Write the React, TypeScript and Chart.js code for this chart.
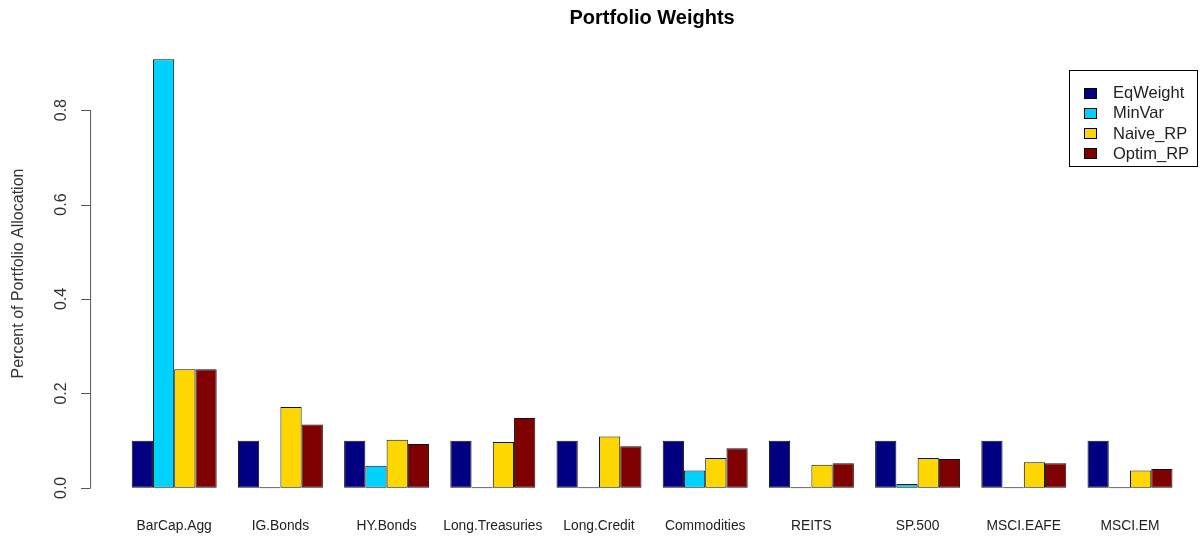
import React, { useEffect, useRef } from "react";
import { Chart, registerables } from "chart.js";

Chart.register(...registerables);

const categories = [
  "BarCap.Agg",
  "IG.Bonds",
  "HY.Bonds",
  "Long.Treasuries",
  "Long.Credit",
  "Commodities",
  "REITS",
  "SP.500",
  "MSCI.EAFE",
  "MSCI.EM",
];

const eqWeight = [0.1, 0.1, 0.1, 0.1, 0.1, 0.1, 0.1, 0.1, 0.1, 0.1];
const minVar = [0.908, 0, 0.047, 0, 0, 0.037, 0, 0.008, 0, 0];
const naiveRP = [0.251, 0.171, 0.102, 0.097, 0.109, 0.063, 0.049, 0.063, 0.054, 0.037];
const optimRP = [0.251, 0.134, 0.093, 0.148, 0.088, 0.084, 0.052, 0.061, 0.052, 0.04];

const seriesNames = ["EqWeight", "MinVar", "Naive_RP", "Optim_RP"];
const seriesColors = ["#000080", "#00d2ff", "#ffd700", "#7f0000"];

const yTicks = [0, 0.2, 0.4, 0.6, 0.8];
const yTickLabels = ["0.0", "0.2", "0.4", "0.6", "0.8"];

const chartTitle = "Portfolio Weights";
const yTitle = "Percent of Portfolio Allocation";

const FONT = "'Liberation Sans', Arial, sans-serif";

const rStylePlugin = {
  id: "rStyle",
  afterDraw(chart: any) {
    const ctx = chart.ctx;
    const area = chart.chartArea;
    const y = chart.scales.y;
    ctx.save();

    // Title
    ctx.fillStyle = "#000";
    ctx.font = `bold 20px ${FONT}`;
    ctx.textAlign = "center";
    ctx.textBaseline = "middle";
    ctx.fillText(chartTitle, (area.left + area.right) / 2, 18);

    // Y axis line + ticks
    const axisX = area.left - 31;
    const y0 = y.getPixelForValue(yTicks[0]);
    const y1 = y.getPixelForValue(yTicks[yTicks.length - 1]);
    ctx.strokeStyle = "#555";
    ctx.lineWidth = 1;
    ctx.beginPath();
    ctx.moveTo(axisX + 0.5, y0);
    ctx.lineTo(axisX + 0.5, y1);
    yTicks.forEach((v) => {
      const py = Math.round(y.getPixelForValue(v)) + 0.5;
      ctx.moveTo(axisX + 0.5, py);
      ctx.lineTo(axisX - 9, py);
    });
    ctx.stroke();

    // Y tick labels (rotated)
    ctx.fillStyle = "#333";
    ctx.font = `16px ${FONT}`;
    yTicks.forEach((v, i) => {
      const py = y.getPixelForValue(v);
      ctx.save();
      ctx.translate(axisX - 29, py);
      ctx.rotate(-Math.PI / 2);
      ctx.textAlign = "center";
      ctx.textBaseline = "middle";
      ctx.fillText(yTickLabels[i], 0, 0);
      ctx.restore();
    });

    // Y title
    ctx.save();
    ctx.translate(19, (area.top + area.bottom) / 2);
    ctx.rotate(-Math.PI / 2);
    ctx.textAlign = "center";
    ctx.textBaseline = "middle";
    ctx.fillStyle = "#333";
    ctx.font = `16px ${FONT}`;
    ctx.fillText(yTitle, 0, 0);
    ctx.restore();

    // Legend
    const bx = 1069.5;
    const by = 70.5;
    const bw = 128;
    const bh = 96;
    ctx.fillStyle = "#fff";
    ctx.fillRect(bx, by, bw, bh);
    ctx.strokeStyle = "#000";
    ctx.lineWidth = 1;
    ctx.strokeRect(bx, by, bw, bh);
    ctx.font = `16.5px ${FONT}`;
    ctx.textAlign = "left";
    ctx.textBaseline = "middle";
    chart.data.datasets.forEach((ds: any, i: number) => {
      const cy = by + 22 + i * 20.3;
      ctx.fillStyle = ds.backgroundColor;
      ctx.fillRect(1084.5, Math.round(cy - 5) + 0.5, 12, 10);
      ctx.strokeStyle = "#000";
      ctx.strokeRect(1084.5, Math.round(cy - 5) + 0.5, 12, 10);
      ctx.fillStyle = "#222";
      ctx.fillText(ds.label, 1113, cy + 1);
    });

    ctx.restore();
  },
};

export default function App() {
  const ref = useRef<HTMLCanvasElement | null>(null);

  useEffect(() => {
    document.body.style.margin = "0";
    if (!ref.current) return;
    const values = [eqWeight, minVar, naiveRP, optimRP];
    const chart = new Chart(ref.current, {
      type: "bar",
      data: {
        labels: categories,
        datasets: values.map((data, i) => ({
          label: seriesNames[i],
          data,
          backgroundColor: seriesColors[i],
          borderColor: "#111",
          borderWidth: 1,
          borderSkipped: false,
          minBarLength: 1,
          categoryPercentage: 0.8,
          barPercentage: 1,
        })),
      },
      options: {
        responsive: false,
        animation: false,
        devicePixelRatio: 1,
        layout: { padding: { left: 121.1, right: 17.9, top: 42, bottom: 0 } },
        plugins: {
          legend: { display: false },
          title: { display: false },
          tooltip: { enabled: false },
        },
        scales: {
          x: {
            grid: { display: false, drawTicks: false },
            border: { display: false },
            ticks: {
              color: "#222",
              font: { family: FONT, size: 13.8 },
              padding: 13,
              maxRotation: 0,
              autoSkip: false,
            },
            afterFit: (scale: any) => {
              scale.height = 36;
            },
          },
          y: {
            display: false,
            min: -0.0363,
            max: 0.9443,
          },
        },
      },
      plugins: [rStylePlugin],
    });
    return () => chart.destroy();
  }, []);

  return (
    <div style={{ width: 1201, height: 541 }}>
      <canvas ref={ref} width={1201} height={541} />
    </div>
  );
}
